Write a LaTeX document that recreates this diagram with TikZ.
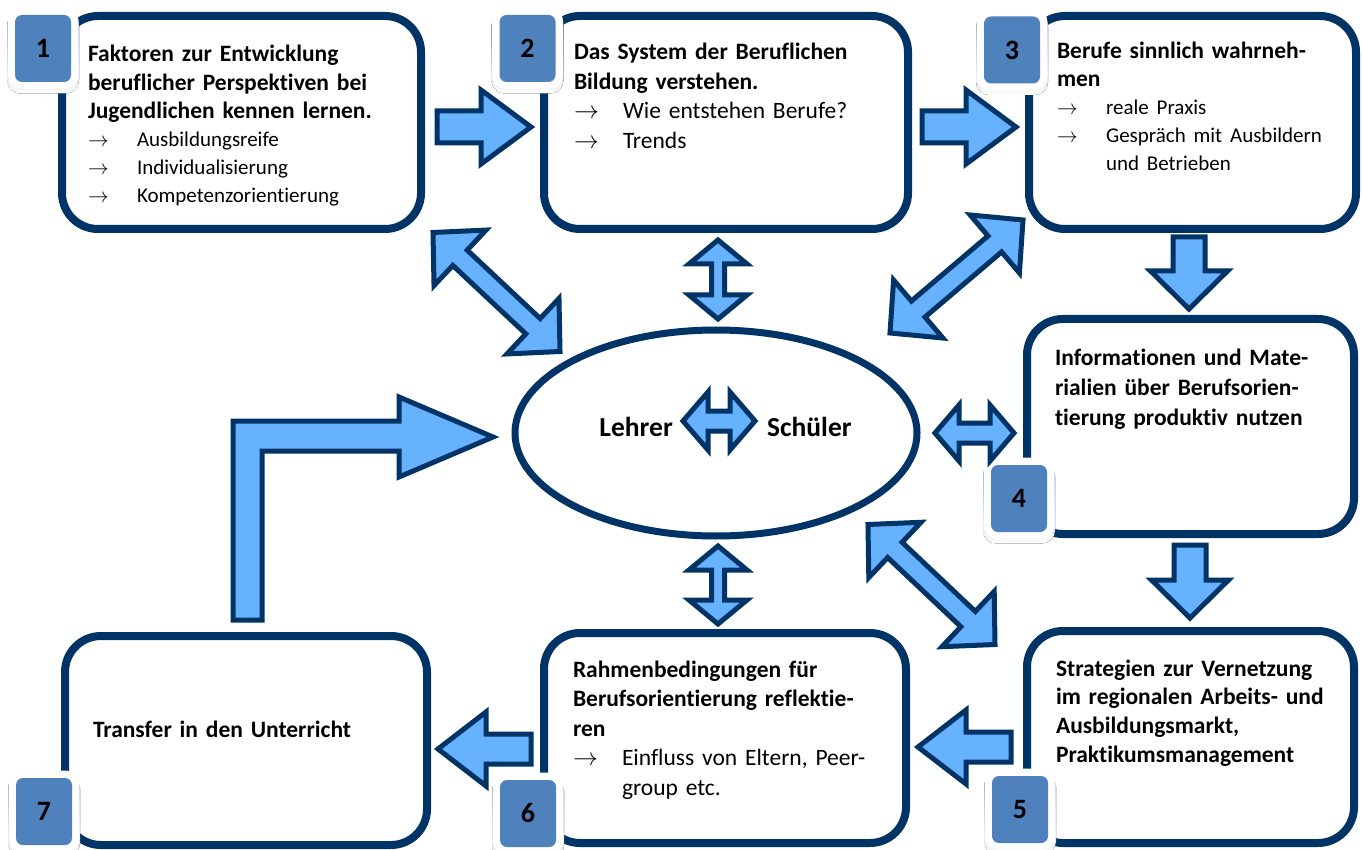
\documentclass[tikz,border=0pt]{standalone}
\usepackage{fontspec}
\setmainfont{Carlito}[Ligatures={NoCommon}]
\usetikzlibrary{shapes.geometric,calc}
\definecolor{navy}{RGB}{0,51,102}
\definecolor{lblue}{RGB}{102,178,255}
\definecolor{badgeblue}{RGB}{79,129,189}
\definecolor{shade}{RGB}{210,210,210}
\tikzset{
  stagebox/.style={rectangle, draw=navy, line width=8pt, rounded corners=36pt, inner sep=0pt, outer sep=0pt, fill=white},
  barrow/.style={draw=navy, fill=lblue, line width=5pt, line join=miter},
  badgebox/.style={rectangle, rounded corners=7pt, fill=badgeblue, minimum width=56pt, minimum height=67pt, inner sep=0pt, font=\fontsize{28}{30}\selectfont\bfseries},
  txt/.style={anchor=base west, inner sep=0pt, outer sep=0pt, text width=330pt, align=left},
}
\newcommand{\dblarrow}[5]{%
  \coordinate (ha) at ($(#1)!#3!(#2)$);
  \coordinate (hb) at ($(#2)!#3!(#1)$);
  \draw[barrow] (#1) -- ($(ha)!#4!90:(#2)$) -- ($(ha)!#5!90:(#2)$) -- ($(hb)!#5!-90:(#1)$) -- ($(hb)!#4!-90:(#1)$) -- (#2) -- ($(hb)!#4!90:(#1)$) -- ($(hb)!#5!90:(#1)$) -- ($(ha)!#5!-90:(#2)$) -- ($(ha)!#4!-90:(#2)$) -- cycle;}
\newcommand{\sglarrow}[5]{%
  \coordinate (hc) at ($(#2)!#3!(#1)$);
  \draw[barrow] ($(#1)!#5!90:(#2)$) -- ($(hc)!#5!-90:(#1)$) -- ($(hc)!#4!-90:(#1)$) -- (#2) -- ($(hc)!#4!90:(#1)$) -- ($(hc)!#5!90:(#1)$) -- ($(#1)!#5!-90:(#2)$) -- cycle;}
\newcommand{\badge}[4]{%
  \fill[shade, rounded corners=13pt] (#2-36,#3-36) rectangle (#2+36,#3+45);
  \fill[white, rounded corners=13pt] (#2-35.5,#3-41) rectangle (#2+35.5,#3+40);
  \node[badgebox] (#1) at (#2,#3) {#4};}
\newcommand{\bul}[1]{\makebox[49pt][l]{$\rightarrow$}#1}
\begin{document}
\begin{tikzpicture}[x=1pt,y=-1pt]
\path[fill=white, use as bounding box] (0,0) rectangle (1363,850);
% boxes
\node[stagebox, minimum width=359pt, minimum height=213pt] (box1) at (241.5,122.5) {};
\node[stagebox, minimum width=364pt, minimum height=213pt] (box2) at (726,122.5) {};
\node[stagebox, minimum width=327pt, minimum height=213pt] (box3) at (1192.5,122.5) {};
\node[stagebox, minimum width=327pt, minimum height=215pt] (box4) at (1190.5,426.5) {};
\node[stagebox, minimum width=327pt, minimum height=212pt] (box5) at (1190.5,737) {};
\node[stagebox, minimum width=362pt, minimum height=210pt] (box6) at (725,738) {};
\node[stagebox, minimum width=362pt, minimum height=209pt] (box7) at (246,740.5) {};
\node[ellipse, draw=navy, line width=7pt, minimum width=402pt, minimum height=206pt, inner sep=0pt] (ell) at (716,433) {};
% texts
\node[txt, font=\fontsize{23.5}{28.2}\selectfont\bfseries] (t1) at (88,62) {Faktoren zur Entwicklung\\ beruflicher Perspektiven bei\\ Jugendlichen kennen lernen.\\ {\mdseries\fontsize{21}{28.2}\selectfont\bul{Ausbildungsreife}}\\ {\mdseries\fontsize{21}{28.2}\selectfont\bul{Individualisierung}}\\ {\mdseries\fontsize{21}{28.2}\selectfont\bul{Kompetenzorientierung}}};
\node[txt, font=\fontsize{23.5}{29.5}\selectfont\bfseries] (t2) at (574,60) {Das System der Beruflichen\\ Bildung verstehen.\\ {\mdseries\bul{Wie entstehen Berufe?}}\\ {\mdseries\bul{Trends}}};
\node[txt, font=\fontsize{23.5}{28}\selectfont\bfseries] (t3) at (1057,59) {Berufe sinnlich wahrneh-\\ men\\ {\mdseries\fontsize{21}{28}\selectfont\bul{reale Praxis}}\\ {\mdseries\fontsize{21}{28}\selectfont\bul{Gespräch mit Ausbildern}}\\ {\mdseries\fontsize{21}{28}\selectfont\hspace*{49pt}und Betrieben}};
\node[txt, font=\fontsize{23.5}{30}\selectfont\bfseries] (t4) at (1055,365) {Informationen und Mate-\\ rialien über Berufsorien-\\ tierung produktiv nutzen};
\node[txt, font=\fontsize{23.5}{28.7}\selectfont\bfseries] (t5) at (1056,676) {Strategien zur Vernetzung\\ im regionalen Arbeits- und\\ Ausbildungsmarkt,\\ Praktikumsmanagement};
\node[txt, font=\fontsize{23.5}{29.5}\selectfont\bfseries] (t6) at (573,677) {Rahmenbedingungen für\\ Berufsorientierung reflektie-\\ ren\\ {\mdseries\bul{Einfluss von Eltern, Peer-}}\\ {\mdseries\hspace*{49pt}group etc.}};
\node[txt, font=\fontsize{23.5}{29.5}\selectfont\bfseries] (t7) at (93,737) {Transfer in den Unterricht};
\node[anchor=base east, inner sep=0pt, font=\fontsize{27.5}{30}\selectfont\bfseries] (lehrer) at (673,436) {Lehrer};
\node[anchor=base west, inner sep=0pt, font=\fontsize{27.5}{30}\selectfont\bfseries] (schueler) at (767,436) {Schüler};
% badges
\badge{b1}{43}{48.5}{1}
\badge{b2}{527.5}{48.5}{2}
\badge{b3}{1012}{50}{3}
\badge{b4}{1019}{498.5}{4}
\badge{b5}{1020}{809.5}{5}
\badge{b6}{528}{813.5}{6}
\badge{b7}{44}{811.5}{7}
% single arrows along the sequence
\coordinate (a12s) at (437,127); \coordinate (a12e) at (531,127);
\sglarrow{a12s}{a12e}{50pt}{37pt}{16pt}
\coordinate (a23s) at (922,127); \coordinate (a23e) at (1016,127);
\sglarrow{a23s}{a23e}{50pt}{37pt}{16pt}
\coordinate (a34s) at (1189,237); \coordinate (a34e) at (1189,309);
\sglarrow{a34s}{a34e}{38pt}{38.5pt}{16pt}
\coordinate (a45s) at (1190,545); \coordinate (a45e) at (1190,618);
\sglarrow{a45s}{a45e}{38pt}{38.5pt}{16pt}
\coordinate (a56s) at (1011,747); \coordinate (a56e) at (918,747);
\sglarrow{a56s}{a56e}{48pt}{37pt}{15pt}
\coordinate (a67s) at (531,749); \coordinate (a67e) at (438,749);
\sglarrow{a67s}{a67e}{48pt}{37pt}{15pt}
% bent arrow from box 7 to the ellipse
\draw[barrow] (233,620) -- (233,421) -- (399,421) -- (399,397) -- (493,437) -- (399,477) -- (399,451) -- (262,451) -- (262,620) -- cycle;
% double arrows
\coordinate (ls1) at (683,421); \coordinate (ls2) at (755,421);
\dblarrow{ls1}{ls2}{25pt}{29pt}{10pt}
\coordinate (f1) at (935,433); \coordinate (f2) at (1014,433);
\dblarrow{f1}{f2}{24pt}{28pt}{10pt}
\coordinate (d1) at (718,240); \coordinate (d2) at (718,319);
\dblarrow{d1}{d2}{24pt}{29pt}{6.5pt}
\coordinate (e1) at (718,546); \coordinate (e2) at (718,624);
\dblarrow{e1}{e2}{24pt}{29pt}{6.5pt}
\coordinate (da1) at (433,232.5); \coordinate (da2) at (560,351.5);
\dblarrow{da1}{da2}{37pt}{38pt}{10.5pt}
\coordinate (db1) at (1023,220); \coordinate (db2) at (890,333);
\dblarrow{db1}{db2}{37pt}{38pt}{10.5pt}
\coordinate (dc1) at (868,524.5); \coordinate (dc2) at (995,644.5);
\dblarrow{dc1}{dc2}{37pt}{38pt}{10.5pt}
\end{tikzpicture}
\end{document}
